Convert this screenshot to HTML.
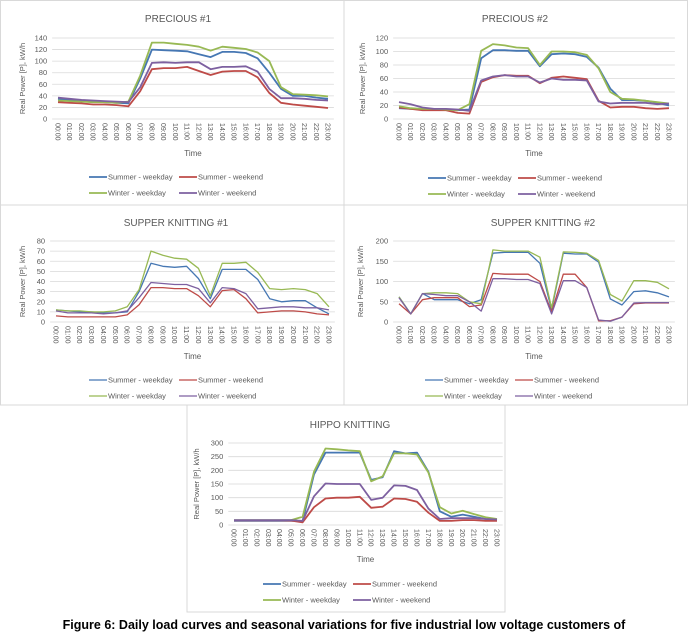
<!DOCTYPE html>
<html><head><meta charset="utf-8"><style>
body{margin:0;background:#fff;}
svg{display:block;font-family:"Liberation Sans",Arial,sans-serif;}
</style></head><body>
<svg id="fig" width="688" height="641" viewBox="0 0 688 641" xmlns="http://www.w3.org/2000/svg">
<text x="344" y="629" text-anchor="middle" font-size="12.5" font-weight="bold" fill="#000">Figure 6: Daily load curves and seasonal variations for five industrial low voltage customers of</text>
</svg>
<script>
const hours = ["00:00","01:00","02:00","03:00","04:00","05:00","06:00","07:00","08:00","09:00","10:00","11:00","12:00","13:00","14:00","15:00","16:00","17:00","18:00","19:00","20:00","21:00","22:00","23:00"];
const seriesNames = ["Summer - weekday","Summer - weekend","Winter - weekday","Winter - weekend"];
const p1SummerWeekday = [35,33,31,30,29,28,27,70,120,119,118,117,112,107,116,116,114,105,80,52,40,40,37,35];
const p1SummerWeekend = [29,28,27,25,25,24,22,48,86,88,88,90,83,76,82,83,83,72,45,28,25,23,21,19];
const p1WinterWeekday = [32,31,30,29,29,28,30,75,132,132,130,128,125,118,125,123,121,115,100,55,43,42,41,39];
const p1WinterWeekend = [37,35,33,32,31,30,29,55,97,98,97,98,98,86,90,90,91,82,52,36,36,35,33,32];
const p1Ticks = [0,20,40,60,80,100,120,140];
const p2SummerWeekday = [16,15,14,14,14,13,14,90,102,102,101,101,78,96,97,96,92,76,45,28,28,27,24,20];
const p2SummerWeekend = [17,15,13,13,13,9,8,55,62,65,64,64,53,61,63,61,59,27,17,18,18,16,15,16];
const p2WinterWeekday = [19,16,15,15,14,13,22,101,111,109,106,105,80,100,100,99,95,75,40,30,29,27,25,23];
const p2WinterWeekend = [25,22,17,15,15,14,12,57,63,65,63,63,54,60,58,58,57,26,23,24,24,24,22,23];
const p2Ticks = [0,20,40,60,80,100,120];
const p3SummerWeekday = [12,11,10,10,9,9,10,30,58,55,54,55,43,23,52,52,52,42,23,20,21,21,14,8];
const p3SummerWeekend = [6,5,5,5,5,5,7,17,34,34,33,33,26,15,31,32,23,9,10,11,11,10,8,7];
const p3WinterWeekday = [12,11,11,10,10,11,15,32,70,66,63,62,53,26,58,58,59,49,33,32,33,32,28,15];
const p3WinterWeekend = [11,9,9,9,8,9,11,24,39,38,37,37,33,19,34,33,28,13,14,15,15,14,14,12];
const p3Ticks = [0,10,20,30,40,50,60,70,80];
const p4SummerWeekday = [62,20,70,55,55,55,45,55,170,172,172,172,145,30,170,168,168,148,57,42,75,77,72,62];
const p4SummerWeekend = [45,20,55,60,60,60,38,42,120,118,118,118,100,25,118,118,85,3,3,12,45,47,47,47];
const p4WinterWeekday = [62,20,70,72,72,70,50,45,178,175,175,175,160,35,173,172,170,152,68,52,102,102,98,82];
const p4WinterWeekend = [60,20,70,68,65,65,50,27,107,107,105,105,95,20,102,102,85,5,2,12,47,48,48,48];
const p4Ticks = [0,50,100,150,200];
const p5SummerWeekday = [15,15,15,15,15,15,15,185,265,265,265,265,165,175,270,262,265,195,50,30,38,30,22,18];
const p5SummerWeekend = [17,17,17,17,17,16,10,65,97,100,100,103,63,67,97,95,85,45,15,15,18,18,15,15];
const p5WinterWeekday = [18,18,18,18,18,18,30,195,280,277,273,270,160,178,262,262,258,192,65,42,52,40,28,22];
const p5WinterWeekend = [18,18,18,18,18,18,15,105,152,150,150,150,92,100,145,143,128,60,22,25,25,25,22,20];
const p5Ticks = [0,50,100,150,200,250,300];

const colors = ["#4677b3","#be4b48","#98b954","#7d60a0"];
const NS = "http://www.w3.org/2000/svg";
const fig = document.getElementById('fig');
function mk(tag, attrs, parent, txt){
  const e = document.createElementNS(NS, tag);
  for (const k in attrs) e.setAttribute(k, attrs[k]);
  if (txt !== undefined) e.textContent = txt;
  parent.appendChild(e);
  return e;
}
function chart(c){
  const g = mk('g', {}, fig);
  
  
  const border = mk('rect', {x:c.bx, y:c.by, width:c.bw, height:c.bh, fill:'#fff', stroke:'#d9d9d9', 'stroke-width':1}, g);
  
  
  const t = mk('text', {x:c.tx, y:c.ty, 'text-anchor':'middle', 'font-size':10, fill:'#595959'}, g, c.title);
  
  
  const step = (c.x23 - c.x0) / 23;
  const left = c.x0 - step/2, right = c.x23 + step/2;
  const maxV = c.ticks[c.ticks.length-1];
  const xs = i => c.x0 + i*step;
  const ys = v => c.yBot - (v/maxV)*(c.yBot - c.yTop);
  c.ticks.forEach(v => {
    const gl = mk('line', {x1:left, x2:right, y1:ys(v), y2:ys(v), stroke:'#d9d9d9', 'stroke-width':0.8}, g);
    
    
    const tl = mk('text', {x:left-5, y:ys(v)+2.5, 'text-anchor':'end', 'font-size':7.5, fill:'#595959'}, g, String(v));
    
    
  });
  hours.forEach((h,i) => {
    const xl = mk('text', {x:0, y:0, transform:`translate(${xs(i)-2.5},${c.yBot+4}) rotate(90)`, 'font-size':7, fill:'#595959'}, g, h);
    
    
  });
  const yt = mk('text', {x:0, y:0, transform:`translate(${c.yax},${(c.yTop+c.yBot)/2}) rotate(-90)`, 'text-anchor':'middle', 'font-size':7.5, fill:'#595959'}, g, 'Real Power [P], kW/h');
  
  
  const xt = mk('text', {x:(left+right)/2, y:c.yBot+37, 'text-anchor':'middle', 'font-size':8, fill:'#595959'}, g, 'Time');
  
  
  c.series.forEach((s, k) => {
    const pts = s.map((v,i) => xs(i).toFixed(1)+','+ys(v).toFixed(1)).join(' ');
    const pl = mk('polyline', {points:pts, fill:'none', stroke:colors[k], 'stroke-width':c.sw, 'stroke-linejoin':'round'}, g);
    
    
  });
  seriesNames.forEach((n, k) => {
    const lx = c.lx + (k%2)*90, ly = c.ly + Math.floor(k/2)*16;
    const lg = mk('g', {}, g);
    
    
    mk('line', {x1:lx, x2:lx+18, y1:ly, y2:ly, stroke:colors[k], 'stroke-width':c.sw}, lg);
    mk('text', {x:lx+19, y:ly+2.5, 'font-size':7.5, fill:'#595959'}, lg, n);
  });
}
chart({name:'chart-precious-1', title:'PRECIOUS #1', bx:0.5, by:0.5, bw:343.5, bh:204.5, tx:178, ty:22, x0:58, x23:328, yTop:38, yBot:119, ticks:p1Ticks, yax:25, lx:89, ly:177, sw:1.8,
  series:[p1SummerWeekday,p1SummerWeekend,p1WinterWeekday,p1WinterWeekend]});
chart({name:'chart-precious-2', title:'PRECIOUS #2', bx:344, by:0.5, bw:343.5, bh:204.5, tx:515, ty:22, x0:399, x23:669, yTop:38, yBot:119, ticks:p2Ticks, yax:365, lx:428, ly:178, sw:1.8,
  series:[p2SummerWeekday,p2SummerWeekend,p2WinterWeekday,p2WinterWeekend]});
chart({name:'chart-supper-knitting-1', title:'SUPPER KNITTING #1', bx:0.5, by:205, bw:343.5, bh:200, tx:176, ty:226, x0:56, x23:329, yTop:241, yBot:322, ticks:p3Ticks, yax:25, lx:89, ly:380, sw:1.3,
  series:[p3SummerWeekday,p3SummerWeekend,p3WinterWeekday,p3WinterWeekend]});
chart({name:'chart-supper-knitting-2', title:'SUPPER KNITTING #2', bx:344, by:205, bw:343.5, bh:200, tx:543, ty:226, x0:399, x23:669, yTop:241, yBot:322, ticks:p4Ticks, yax:363, lx:425, ly:380, sw:1.3,
  series:[p4SummerWeekday,p4SummerWeekend,p4WinterWeekday,p4WinterWeekend]});
chart({name:'chart-hippo-knitting', title:'HIPPO KNITTING', bx:187, by:405, bw:318, bh:207, tx:350, ty:428, x0:234, x23:497, yTop:443, yBot:525, ticks:p5Ticks, yax:199, lx:263, ly:584, sw:1.8,
  series:[p5SummerWeekday,p5SummerWeekend,p5WinterWeekday,p5WinterWeekend]});
</script>
</body></html>
